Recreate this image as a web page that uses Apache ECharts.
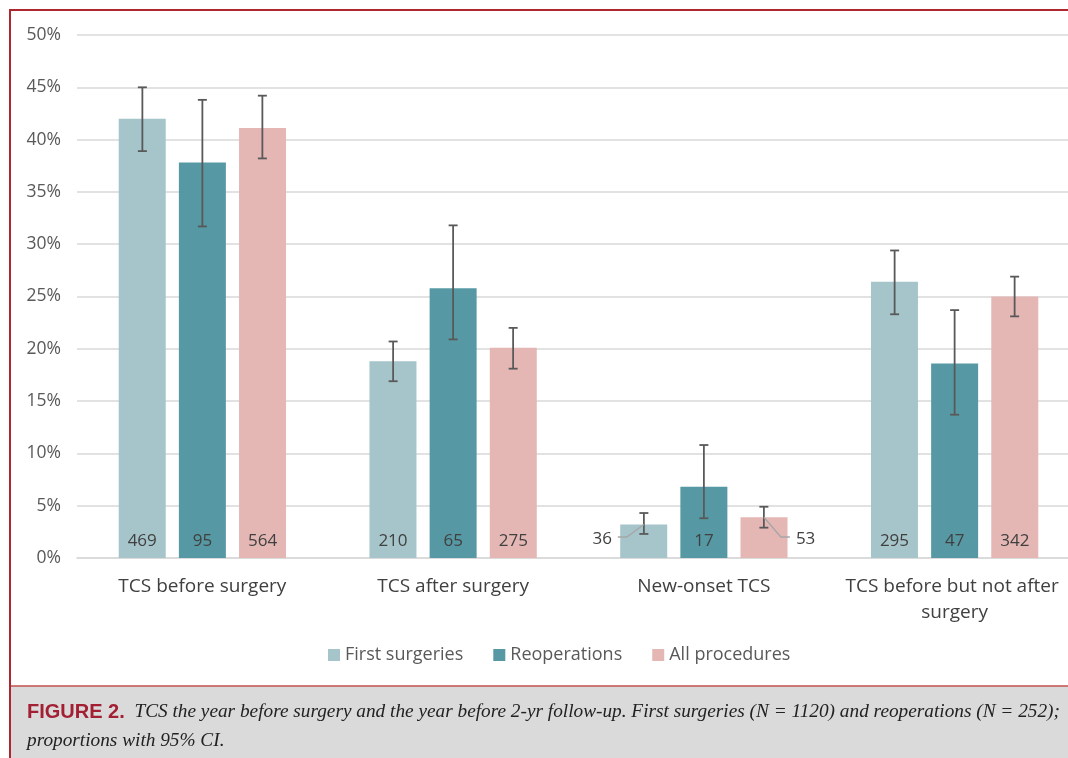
<!DOCTYPE html>
<html>
<head>
<meta charset="utf-8">
<script src="https://cdn.jsdelivr.net/npm/echarts@6/dist/echarts.min.js"></script>
<style>
  html, body { margin: 0; padding: 0; background: #fff; }
  #chart { width: 1068px; height: 758px; }
</style>
</head>
<body>
<div id="chart"></div>
<script>
const categories = ["TCS before surgery", "TCS after surgery", "New-onset TCS", "TCS before but not after surgery"];
const seriesNames = ["First surgeries", "Reoperations", "All procedures"];
const colors = ["#a5c5ca", "#5698a3", "#e4b7b5"];

// proportions (%)
const firstValues = [42.0, 18.8, 3.2, 26.4];
const reopValues = [37.8, 25.8, 6.8, 18.6];
const allValues = [41.1, 20.1, 3.9, 25.0];

// 95% CI bounds (%)
const firstLow = [38.9, 16.9, 2.3, 23.3];
const firstHigh = [45.0, 20.7, 4.3, 29.4];
const reopLow = [31.7, 20.9, 3.8, 13.7];
const reopHigh = [43.8, 31.8, 10.8, 23.7];
const allLow = [38.2, 18.1, 2.9, 23.1];
const allHigh = [44.2, 22.0, 4.9, 26.9];

// counts
const firstCounts = [469, 210, 36, 295];
const reopCounts = [95, 65, 17, 47];
const allCounts = [564, 275, 53, 342];

// counts drawn outside the bar with a leader line: [series, category, side]
const outsideLabels = [[0, 2, -1], [2, 2, 1]];

const yTicks = { min: 0, max: 50, interval: 5 };

const values = [firstValues, reopValues, allValues];
const lows = [firstLow, reopLow, allLow];
const highs = [firstHigh, reopHigh, allHigh];
const counts = [firstCounts, reopCounts, allCounts];

const BAR_W = 47;
const BAR_STEP = 60;
const FONT = "'Open Sans', sans-serif";

const chart = echarts.init(document.getElementById("chart"));

const isOutside = (s, c) => outsideLabels.some((o) => o[0] === s && o[1] === c);

const barSeries = seriesNames.map((name, s) => ({
  name,
  type: "bar",
  barWidth: BAR_W,
  barGap: "28%",
  itemStyle: { color: colors[s] },
  data: values[s].map((v, c) => ({
    value: v,
    label: { show: !isOutside(s, c) },
  })),
  label: {
    show: true,
    position: "insideBottom",
    distance: 8,
    color: "#404040",
    fontSize: 17,
    fontFamily: FONT,
    formatter: (p) => String(counts[s][p.dataIndex]),
  },
  emphasis: { disabled: true },
}));

const errorData = [];
seriesNames.forEach((_, s) => {
  categories.forEach((_, c) => {
    errorData.push([c, lows[s][c], highs[s][c], s]);
  });
});

const errorSeries = {
  type: "custom",
  name: "CI",
  silent: true,
  z: 10,
  data: errorData,
  encode: { x: 0, y: [1, 2] },
  renderItem: (params, api) => {
    const c = api.value(0);
    const s = api.value(3);
    const lo = api.coord([c, api.value(1)]);
    const hi = api.coord([c, api.value(2)]);
    const x = lo[0] + (s - 1) * BAR_STEP;
    const cap = 4.5;
    const style = { stroke: "#595959", lineWidth: 1.8 };
    return {
      type: "group",
      children: [
        { type: "line", shape: { x1: x, y1: lo[1], x2: x, y2: hi[1] }, style },
        { type: "line", shape: { x1: x - cap, y1: lo[1], x2: x + cap, y2: lo[1] }, style },
        { type: "line", shape: { x1: x - cap, y1: hi[1], x2: x + cap, y2: hi[1] }, style },
      ],
    };
  },
};

const outsideSeries = {
  type: "custom",
  name: "outside",
  silent: true,
  z: 11,
  data: outsideLabels.map((o) => [o[1], values[o[0]][o[1]], counts[o[0]][o[1]], o[0], o[2]]),
  encode: { x: 0, y: 1 },
  renderItem: (params, api) => {
    const c = api.value(0);
    const s = api.value(3);
    const side = api.value(4);
    const top = api.coord([c, api.value(1)]);
    const base = api.coord([c, 0]);
    const x = top[0] + (s - 1) * BAR_STEP;
    const y = base[1] - 21;
    return {
      type: "group",
      children: [
        {
          type: "polyline",
          shape: { points: [[x, top[1]], [x + side * 17, y], [x + side * 26, y]] },
          style: { stroke: "#a6a6a6", lineWidth: 1.3, fill: null },
        },
        {
          type: "text",
          style: {
            x: x + side * 32,
            y: y + 2,
            text: String(api.value(2)),
            fill: "#404040",
            font: "17px " + FONT,
            align: side < 0 ? "right" : "left",
            verticalAlign: "middle",
          },
        },
      ],
    };
  },
};

chart.setOption({
  animation: false,
  backgroundColor: "#ffffff",
  textStyle: { fontFamily: FONT },
  grid: { left: 77, top: 35, right: -12, bottom: 200, containLabel: false, outerBoundsMode: "none" },
  legend: {
    data: seriesNames,
    left: 323,
    top: 641,
    icon: "rect",
    itemWidth: 12,
    itemHeight: 12,
    itemGap: 30,
    textStyle: { color: "#595959", fontSize: 18, fontFamily: FONT },
  },
  xAxis: {
    type: "category",
    data: categories,
    axisLine: { lineStyle: { color: "#d9d9d9", width: 1.5 } },
    axisTick: { show: false },
    axisLabel: {
      color: "#404040",
      fontSize: 19,
      fontFamily: FONT,
      margin: 16,
      width: 240,
      overflow: "break",
      lineHeight: 26,
      interval: 0,
    },
  },
  yAxis: {
    type: "value",
    min: yTicks.min,
    max: yTicks.max,
    interval: yTicks.interval,
    axisLine: { show: false },
    axisTick: { show: false },
    splitLine: { lineStyle: { color: "#d9d9d9", width: 1.5 } },
    axisLabel: {
      color: "#595959",
      fontSize: 17.5,
      fontFamily: FONT,
      margin: 16,
      formatter: "{value}%",
    },
  },
  graphic: [
    {
      type: "rect",
      shape: { x: 10, y: 686, width: 1058, height: 72 },
      style: { fill: "#dadada" },
      silent: true,
    },
    {
      type: "line",
      shape: { x1: 10, y1: 686, x2: 1068, y2: 686 },
      style: { stroke: "#c0504d", lineWidth: 1.5 },
      silent: true,
    },
    {
      type: "polyline",
      shape: { points: [[10, 758], [10, 10], [1068, 10]] },
      style: { stroke: "#b0262e", lineWidth: 2, fill: null },
      silent: true,
    },
    {
      type: "text",
      left: 27,
      top: 702,
      silent: true,
      style: {
        text: "{a|FIGURE 2.}{b|  TCS the year before surgery and the year before 2-yr follow-up. First surgeries (N = 1120) and reoperations (N = 252);}",
        rich: {
          a: { fontFamily: "'Liberation Sans Narrow', 'Liberation Sans', sans-serif", fontWeight: "bold", fontSize: 20, fill: "#a31f34" },
          b: { fontFamily: "'Liberation Serif', serif", fontStyle: "italic", fontSize: 19.3, fill: "#222222" },
        },
      },
    },
    {
      type: "text",
      left: 27,
      top: 731,
      silent: true,
      style: {
        text: "proportions with 95% CI.",
        font: "italic 19.3px 'Liberation Serif', serif",
        fill: "#222222",
      },
    },
  ],
  series: [...barSeries, errorSeries, outsideSeries],
});
</script>
</body>
</html>
